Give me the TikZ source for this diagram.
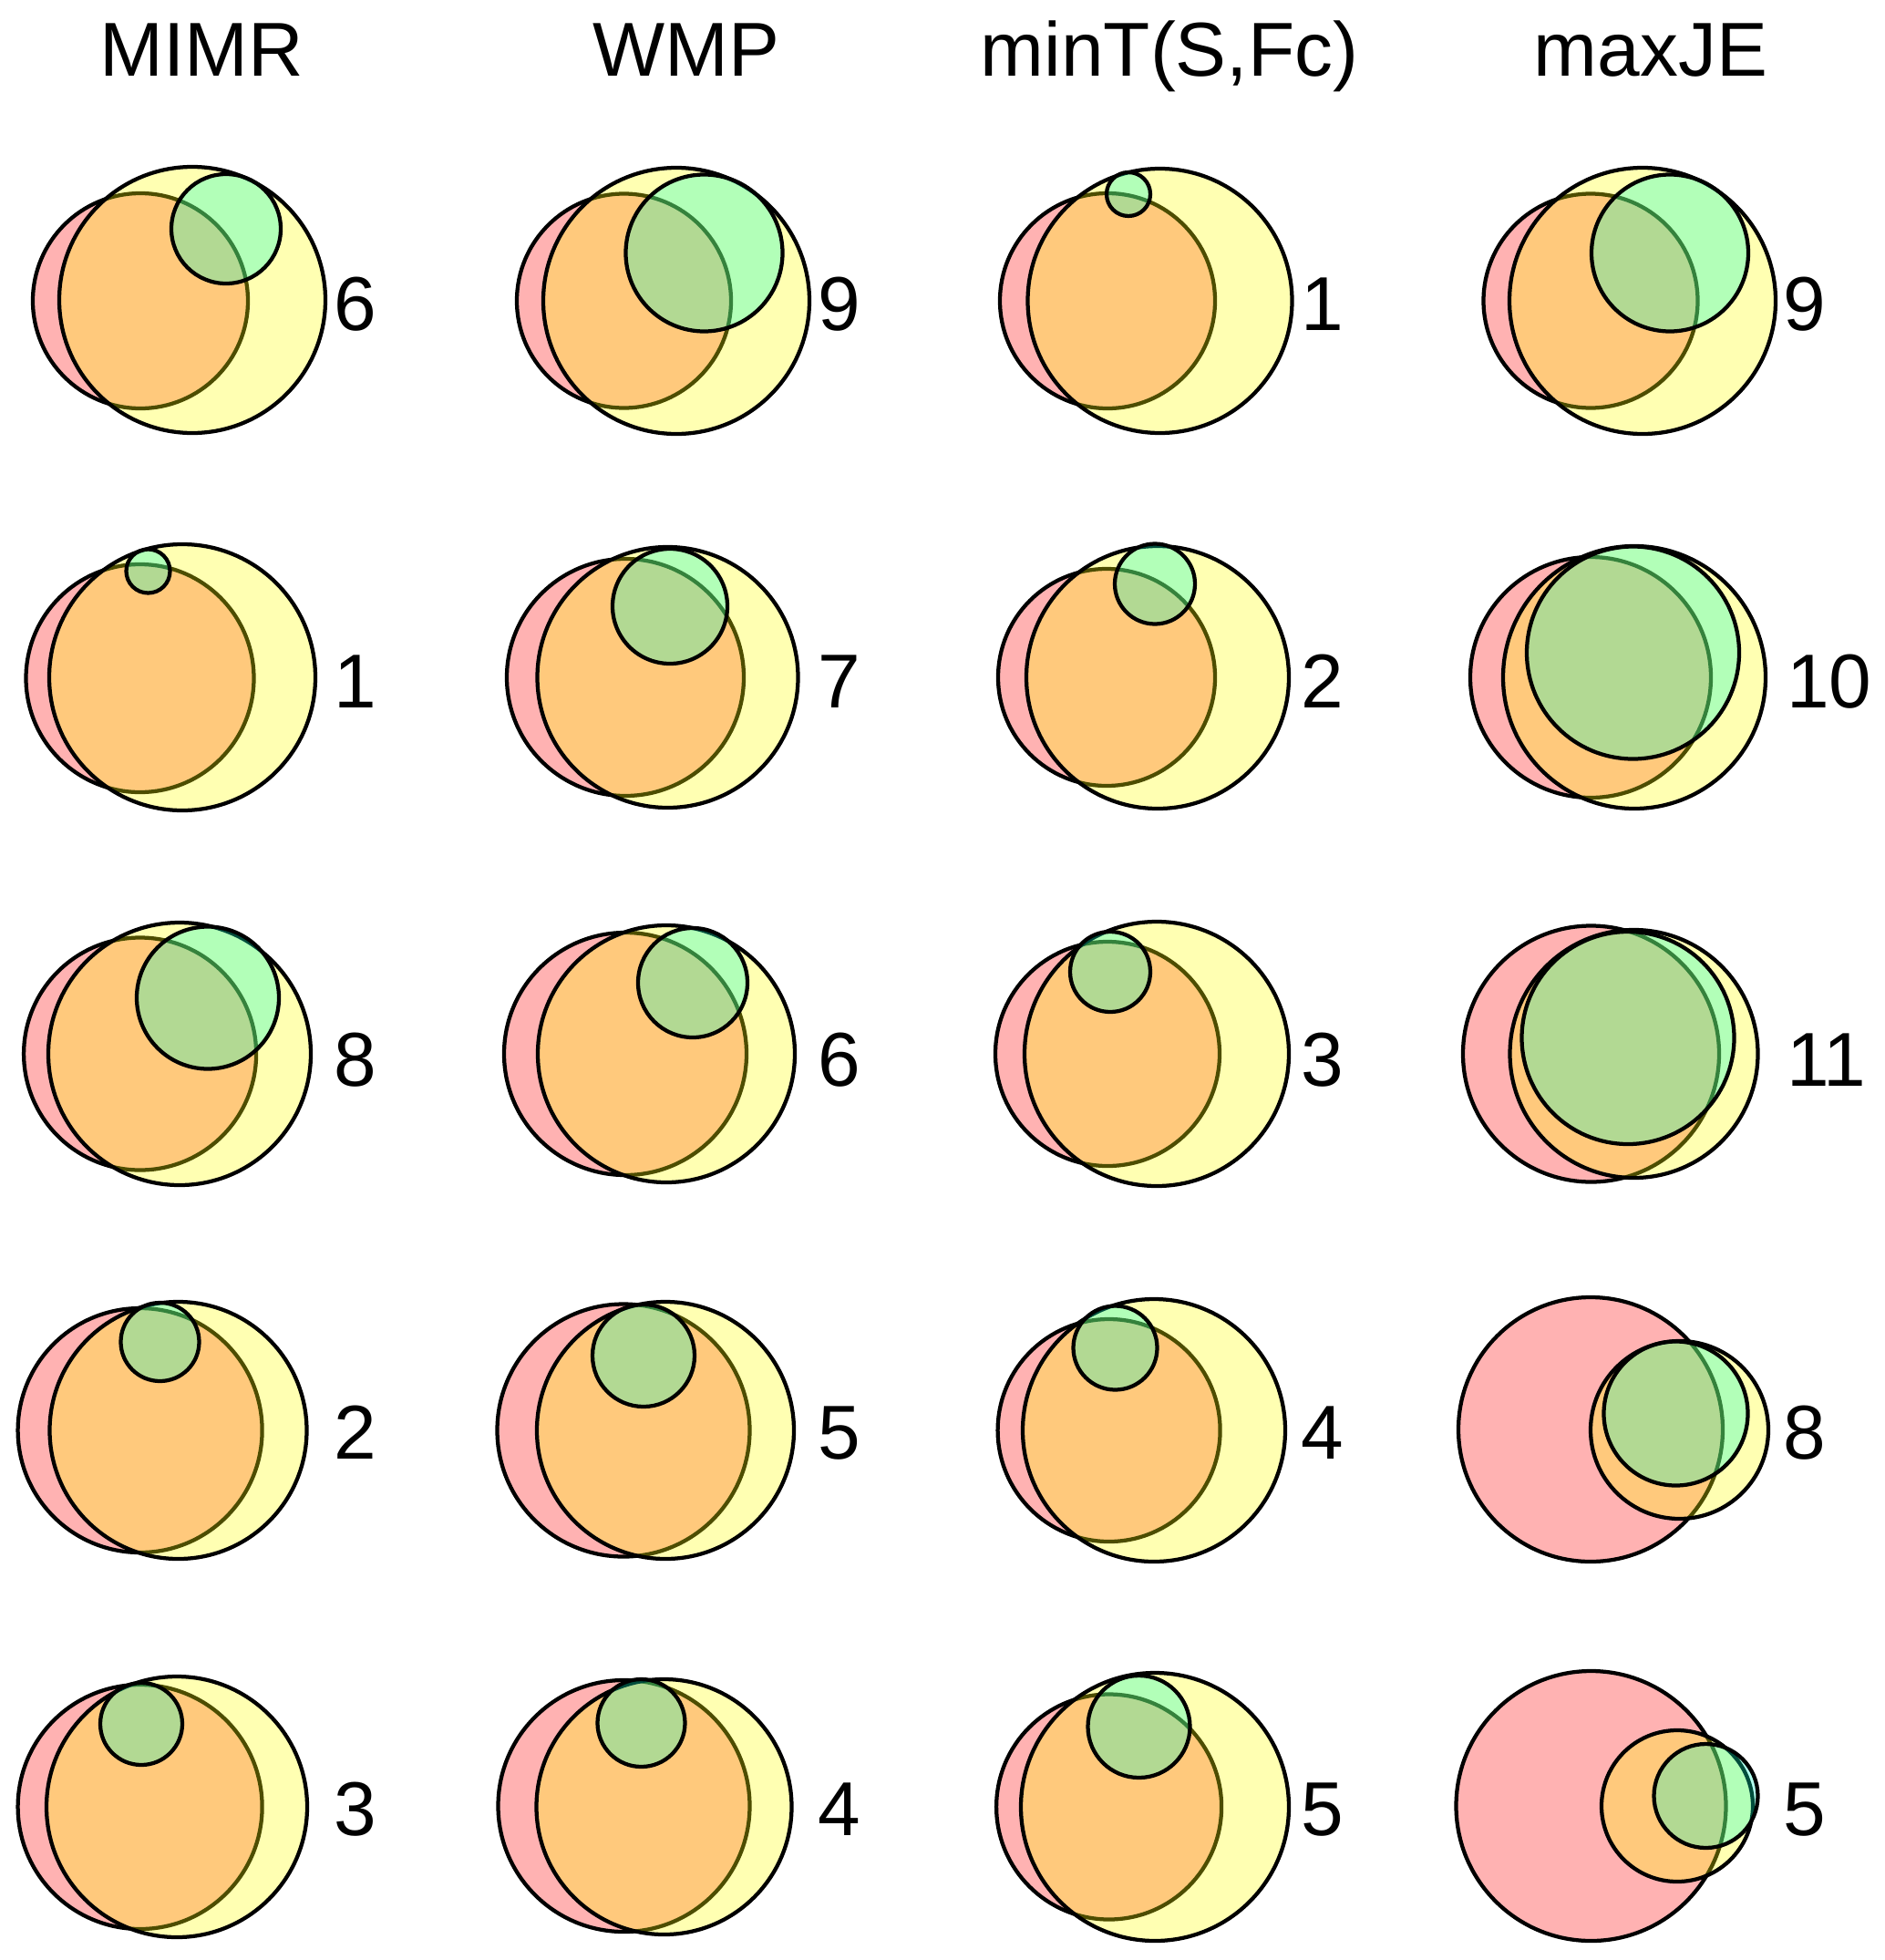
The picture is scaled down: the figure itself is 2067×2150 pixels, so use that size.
\documentclass[tikz,border=0pt]{standalone}
\usepackage{fontspec}
\setmainfont{Liberation Sans}
\definecolor{vred}{rgb}{1,0,0}
\definecolor{vyel}{rgb}{1,1,0}
\definecolor{vgrn}{rgb}{0,1,0.78}
\tikzset{
  setc/.style={draw=black, line width=0.085cm, fill opacity=0.3},
  redset/.style={setc, fill=vred},
  yelset/.style={setc, fill=vyel},
  grnset/.style={setc, fill=vgrn},
  numlab/.style={font=\fontsize{47.7}{57}\selectfont, inner sep=0pt, anchor=base west},
  ttl/.style={font=\fontsize{47.7}{57}\selectfont, inner sep=0pt, anchor=base}
}
\newcommand\trio[9]{%
  \filldraw[redset] (#1,#2) circle (#3);
  \filldraw[yelset] (#4,#5) circle (#6);
  \filldraw[grnset] (#7,#8) circle (#9);}
\begin{document}
\begin{tikzpicture}[x=0.02cm,y=-0.02cm]
\useasboundingbox (0,0) rectangle (2067,2150);
% titles
\node[ttl] (t1) at (221,83) {MIMR};
\node[ttl] (t2) at (753,83) {WMP};
\node[ttl] (t3) at (1283,83) {minT(S,Fc)};
\node[ttl] (t4) at (1811,83) {maxJE};
% row 1
\trio{154}{330}{118}{211}{329}{146}{248}{251}{60}
\trio{684.5}{330}{117.5}{742}{330}{146}{772.5}{277.5}{86}
\trio{1215}{330}{118}{1272.5}{330}{145}{1238}{213}{24}
\trio{1745}{330}{117.5}{1802}{330}{146}{1832}{277.5}{86}
% row 2
\trio{153.5}{744}{125}{200}{743}{146}{162.5}{626.5}{24}
\trio{686}{743}{130}{732.5}{743}{143}{735}{665}{63}
\trio{1214}{743}{119}{1270}{743}{144}{1267}{640.5}{44}
\trio{1745}{743}{132}{1793}{743}{144}{1791.5}{716}{116.5}
% row 3
\trio{153.6}{1156}{127.5}{197}{1156}{144}{228}{1094.5}{78}
\trio{686}{1156}{133}{731}{1156}{141}{760}{1078}{60}
\trio{1215}{1156}{123}{1269}{1156}{145}{1218}{1066}{44}
\trio{1745.5}{1156}{140.5}{1792.5}{1156}{136}{1786}{1138.5}{116.5}
% row 4
\trio{153.6}{1569}{134}{195.5}{1569}{141}{175.5}{1472}{43}
\trio{684}{1569}{138.5}{730}{1569}{141}{706}{1487}{56}
\trio{1216.6}{1569}{122}{1266}{1569}{144}{1223.5}{1478.5}{46}
\trio{1745}{1568}{145}{1842.5}{1568.5}{97.5}{1838.5}{1550.5}{79}
% row 5
\trio{153.6}{1982}{134}{194}{1982}{143}{155}{1891}{45}
\trio{684.5}{1981}{138}{728.5}{1982}{140}{703.5}{1890}{48}
\trio{1216.6}{1982}{123.5}{1267}{1982}{147}{1249.5}{1894}{56}
\trio{1745.5}{1981}{148}{1840}{1981}{83}{1871.5}{1970}{57}
% labels
\node[numlab] (a1) at (366,362) {6};
\node[numlab] (a2) at (366,776) {1};
\node[numlab] (a3) at (366,1191) {8};
\node[numlab] (a4) at (366,1600) {2};
\node[numlab] (a5) at (366,2013) {3};
\node[numlab] (b1) at (897,362) {9};
\node[numlab] (b2) at (897,776) {7};
\node[numlab] (b3) at (897,1191) {6};
\node[numlab] (b4) at (897,1600) {5};
\node[numlab] (b5) at (897,2013) {4};
\node[numlab] (c1) at (1427,362) {1};
\node[numlab] (c2) at (1427,776) {2};
\node[numlab] (c3) at (1427,1191) {3};
\node[numlab] (c4) at (1427,1600) {4};
\node[numlab] (c5) at (1427,2013) {5};
\node[numlab] (d1) at (1956,362) {9};
\node[numlab] (d2) at (1960,776) {10};
\node[numlab] (d3) at (1960,1191) {11};
\node[numlab] (d4) at (1956,1600) {8};
\node[numlab] (d5) at (1956,2013) {5};
\end{tikzpicture}
\end{document}
